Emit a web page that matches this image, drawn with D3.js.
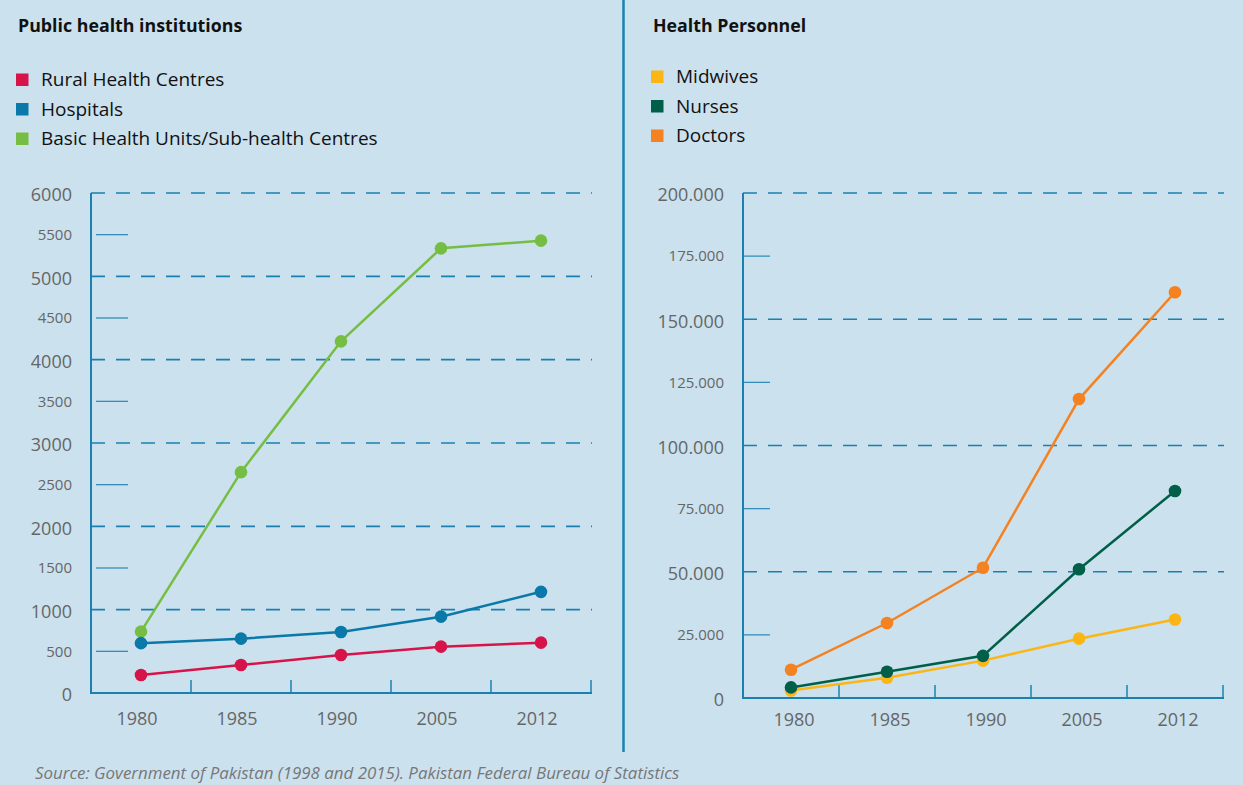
<!DOCTYPE html>
<html>
<head>
<meta charset="utf-8">
<script src="https://cdn.jsdelivr.net/npm/d3@7"></script>
<style>
  html, body { margin: 0; padding: 0; background: #cbe1ee; }
  svg { display: block; font-family: "Open Sans", "Noto Sans", sans-serif; }
</style>
</head>
<body>
<div id="chart"></div>
<script>
// --- data ---
var years = ['1980', '1985', '1990', '2005', '2012'];

var ruralCentres = [216, 336, 456, 556, 604];
var hospitals = [598, 652, 732, 916, 1214];
var basicUnits = [736, 2650, 4220, 5336, 5428];

var midwives = [3000, 8000, 14800, 23500, 31100];
var nurses = [4200, 10400, 16700, 51000, 82000];
var doctors = [11200, 29700, 51600, 118400, 160700];

var institutionTicks = [0, 500, 1000, 1500, 2000, 2500, 3000, 3500, 4000, 4500, 5000, 5500, 6000];
var institutionMajor = [0, 1000, 2000, 3000, 4000, 5000, 6000];
var personnelTicks = [0, 25000, 50000, 75000, 100000, 125000, 150000, 175000, 200000];
var personnelMajor = [0, 50000, 100000, 150000, 200000];

var width = 1243, height = 785;
var axisColor = '#1a80b0';
var labelColor = '#666';

var svg = d3.select('#chart').append('svg')
  .attr('width', width)
  .attr('height', height);

svg.append('rect').attr('width', width).attr('height', height).attr('fill', '#cbe1ee');

// separator between the two panels
svg.append('line')
  .attr('x1', 623.5).attr('x2', 623.5)
  .attr('y1', 0).attr('y2', 752)
  .attr('stroke', axisColor).attr('stroke-width', 2.5);

// thousands separator is a dot in the original
var dotFormat = d3.formatLocale({ decimal: ',', thousands: '.', grouping: [3], currency: ['', ''] }).format(',');

// draws one panel (title, legend, axes, lines)
var drawPanel = function(cfg) {
  var g = svg.append('g');

  // title
  g.append('text')
    .attr('x', cfg.titleX).attr('y', 32)
    .attr('font-size', 17.8).attr('font-weight', 'bold').attr('fill', '#111')
    .text(cfg.title);

  // legend
  cfg.series.forEach(function(s, i) {
    var y = cfg.legendY + i * 29.5;
    g.append('rect')
      .attr('x', cfg.titleX - 2).attr('y', y - 12.5)
      .attr('width', 12.5).attr('height', 12.5)
      .attr('fill', s.color);
    g.append('text')
      .attr('x', cfg.titleX + 23).attr('y', y)
      .attr('font-size', 19).attr('fill', '#111')
      .text(s.name);
  });

  var x = d3.scaleBand().domain(years).range([cfg.left, cfg.right]);
  var y = d3.scaleLinear().domain([0, cfg.max]).range([cfg.bottom, cfg.top]);

  // y ticks: dashed lines for major, short strokes for minor
  cfg.ticks.forEach(function(t) {
    var major = cfg.major.indexOf(t) >= 0;
    if (major && t > 0) {
      g.append('line')
        .attr('x1', cfg.left).attr('x2', cfg.right + 1)
        .attr('y1', y(t)).attr('y2', y(t))
        .attr('stroke', axisColor).attr('stroke-width', 1.7)
        .attr('stroke-dasharray', '14,11');
    } else if (!major) {
      g.append('line')
        .attr('x1', cfg.left + cfg.minorOffset).attr('x2', cfg.left + cfg.minorOffset + cfg.minorLength)
        .attr('y1', y(t)).attr('y2', y(t))
        .attr('stroke', axisColor).attr('stroke-width', 1.3).attr('opacity', 0.85);
    }
    g.append('text')
      .attr('x', cfg.left - 19)
      .attr('y', y(t) + (major ? 2 : 0))
      .attr('dy', '0.35em')
      .attr('text-anchor', 'end')
      .attr('font-size', major ? 18 : 15)
      .attr('fill', labelColor)
      .text(t === 0 ? '0' : cfg.format(t));
  });

  // axes
  g.append('line')
    .attr('x1', cfg.left).attr('x2', cfg.left)
    .attr('y1', cfg.top).attr('y2', cfg.bottom)
    .attr('stroke', axisColor).attr('stroke-width', 2);
  g.append('line')
    .attr('x1', cfg.left - 1).attr('x2', cfg.right + 1)
    .attr('y1', cfg.bottom).attr('y2', cfg.bottom)
    .attr('stroke', axisColor).attr('stroke-width', 2);

  // x ticks at band edges
  years.forEach(function(yr, i) {
    var edge = x(yr) + x.bandwidth();
    g.append('line')
      .attr('x1', edge).attr('x2', edge)
      .attr('y1', cfg.bottom).attr('y2', cfg.bottom - 13)
      .attr('stroke', axisColor).attr('stroke-width', 1.5);
    g.append('text')
      .attr('x', x(yr) + x.bandwidth() / 2 + cfg.yearShift)
      .attr('y', cfg.yearY)
      .attr('text-anchor', 'middle')
      .attr('font-size', 18).attr('fill', labelColor)
      .text(yr);
  });

  // lines and dots
  var line = d3.line()
    .x(function(d, i) { return x(years[i]) + x.bandwidth() / 2; })
    .y(function(d) { return y(d); });

  cfg.drawOrder.forEach(function(idx) {
    var s = cfg.series[idx];
    g.append('path')
      .attr('d', line(s.values))
      .attr('fill', 'none')
      .attr('stroke', s.color)
      .attr('stroke-width', 2.5);
    g.selectAll(null)
      .data(s.values)
      .enter().append('circle')
      .attr('cx', function(d, i) { return x(years[i]) + x.bandwidth() / 2; })
      .attr('cy', function(d) { return y(d); })
      .attr('r', 6.3)
      .attr('fill', s.color);
  });
};

drawPanel({
  title: 'Public health institutions',
  titleX: 18,
  legendY: 86,
  left: 91, right: 591, top: 193, bottom: 693,
  yearY: 725, yearShift: -4,
  max: 6000,
  ticks: institutionTicks,
  major: institutionMajor,
  format: d3.format('d'),
  minorOffset: 5, minorLength: 32,
  series: [
    { name: 'Rural Health Centres', color: '#d7144a', values: ruralCentres },
    { name: 'Hospitals', color: '#0a78a8', values: hospitals },
    { name: 'Basic Health Units/Sub-health Centres', color: '#76be43', values: basicUnits }
  ],
  drawOrder: [2, 1, 0]
});

drawPanel({
  title: 'Health Personnel',
  titleX: 653,
  legendY: 83,
  left: 743, right: 1223, top: 193, bottom: 698,
  yearY: 726, yearShift: 3,
  max: 200000,
  ticks: personnelTicks,
  major: personnelMajor,
  format: dotFormat,
  minorOffset: 0, minorLength: 27,
  series: [
    { name: 'Midwives', color: '#fbb616', values: midwives },
    { name: 'Nurses', color: '#005f48', values: nurses },
    { name: 'Doctors', color: '#f58220', values: doctors }
  ],
  drawOrder: [0, 1, 2]
});

// source note
svg.append('text')
  .attr('x', 35).attr('y', 779)
  .attr('font-size', 16.9).attr('font-style', 'italic').attr('fill', '#777')
  .text('Source: Government of Pakistan (1998 and 2015). Pakistan Federal Bureau of Statistics');
</script>
</body>
</html>
